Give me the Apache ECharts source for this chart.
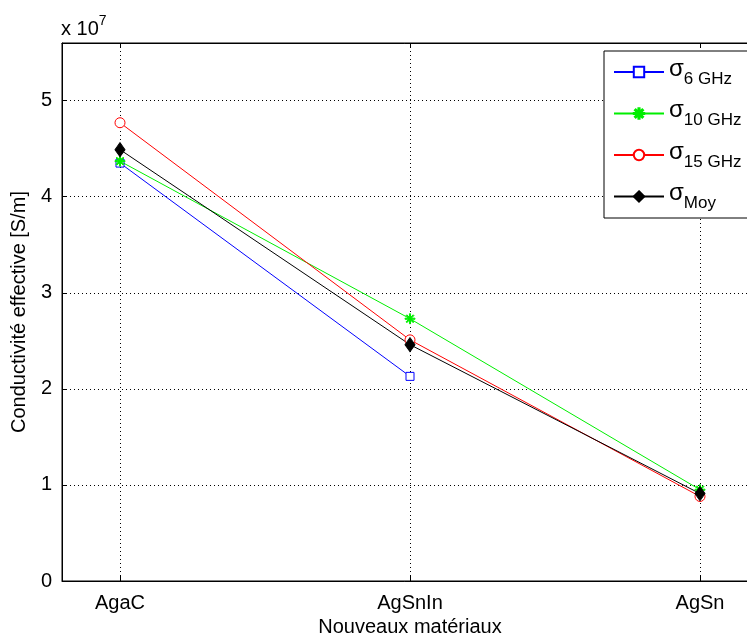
<!DOCTYPE html>
<html><head><meta charset="utf-8">
<script src="https://cdn.jsdelivr.net/npm/echarts@6/dist/echarts.min.js"></script>
<style>html,body{margin:0;padding:0;background:#fff}#c{width:747px;height:635px}</style>
</head><body><div id="c"></div>
<script>
const categories = ['AgaC', 'AgSnIn', 'AgSn'];
const sigma6 = [4.35e7, 2.13e7, null];
const sigma10 = [4.37e7, 2.73e7, 0.95e7];
const sigma15 = [4.77e7, 2.51e7, 0.88e7];
const sigmaMoy = [4.49e7, 2.46e7, 0.91e7];
const yTicks = [0, 1e7, 2e7, 3e7, 4e7, 5e7];
const seriesNames = ['6 GHz', '10 GHz', '15 GHz', 'Moy'];

const FONT = "'Liberation Sans', Arial, sans-serif";
const star = 'path://M-5,-0.55L5,-0.55L5,0.55L-5,0.55Z M-0.55,-5L0.55,-5L0.55,5L-0.55,5Z M-3.14,-3.92L3.92,3.14L3.14,3.92L-3.92,-3.14Z M-3.92,3.14L3.14,-3.92L3.92,-3.14L-3.14,3.92Z';

function toPts(arr){ const out=[]; arr.forEach((v,i)=>{ if(v!==null) out.push([i+1, v]); }); return out; }

const chart = echarts.init(document.getElementById('c'));
const mk = (name, data, color, symbol, size, filled) => ({
  name, type: 'line', data: toPts(data), symbol, symbolSize: size,
  lineStyle: {color, width: 1}, itemStyle: {color: filled ? color : '#fff', borderColor: color, borderWidth: 1},
  animation: false, z: 3
});
chart.setOption({
  animation: false,
  grid: {left: 62, top: 43, right: -11, bottom: 54, show: true, borderColor: '#000', borderWidth: 1, containLabel: false, outerBoundsMode: 'none'},
  xAxis: [{
    type: 'value', min: 0.8, max: 3.2,
    axisLine: {show: true, lineStyle: {color: '#000'}},
    axisTick: {show: true, inside: true, length: 5, customValues: [1,2,3], lineStyle:{color:'#000'}},
    axisLabel: {customValues: [1,2,3], formatter: v => categories[Math.round(v)-1] || '', color: '#000', fontFamily: FONT, fontSize: 20, margin: 12},
    splitLine: {show: true, lineStyle: {color: '#000', type: [1, 3], width: 1}},
    name: 'Nouveaux matériaux', nameLocation: 'middle', nameGap: 36,
    nameTextStyle: {color: '#000', fontFamily: FONT, fontSize: 20}
  }, {
    type: 'value', position: 'top', min: 0.8, max: 3.2,
    axisLine: {show: true, lineStyle: {color: '#000'}},
    axisTick: {show: true, inside: true, length: 5, customValues: [1,2,3], lineStyle:{color:'#000'}},
    axisLabel: {show: false}, splitLine: {show: false}
  }],
  yAxis: {
    type: 'value', min: 0, max: 5.6e7, interval: 1e7,
    axisLine: {show: true, lineStyle: {color: '#000'}},
    axisTick: {show: true, inside: true, length: 5, customValues: yTicks, lineStyle:{color:'#000'}},
    axisLabel: {customValues: yTicks, formatter: v => String(Math.round(v/1e7)), color: '#000', fontFamily: FONT, fontSize: 20, margin: 10},
    splitLine: {show: true, lineStyle: {color: '#000', type: [1, 3], width: 1}},
    name: 'Conductivité effective [S/m]', nameLocation: 'middle', nameGap: 31,
    nameTextStyle: {color: '#000', fontFamily: FONT, fontSize: 20}
  },
  legend: {
    orient: 'vertical', left: 604, top: 51, itemWidth: 50, itemHeight: 13, itemGap: 11,
    backgroundColor: '#fff', borderColor: '#000', borderWidth: 1, padding: [6, 40, 6, 9],
    data: ['s6','s10','s15','sMoy'],
    formatter: name => {
      const m = {s6: seriesNames[0], s10: seriesNames[1], s15: seriesNames[2], sMoy: seriesNames[3]};
      return '{sig|σ}{sub|' + m[name] + '}';
    },
    textStyle: {
      rich: {
        sig: {fontFamily: FONT, fontSize: 24, color: '#000', padding: [0,0,6,0]},
        sub: {fontFamily: FONT, fontSize: 17, color: '#000', padding: [14,0,0,0]}
      }
    }
  },
  graphic: [{
    type: 'text', left: 61, top: 14,
    style: {rich: {a: {fontFamily: FONT, fontSize: 20, fill: '#000', padding:[6,0,0,0]}, b: {fontFamily: FONT, fontSize: 14, fill:'#000', padding:[0,0,10,0]}}, text: '{a|x 10}{b|7}'}
  }],
  series: [
    mk('s6', sigma6, '#0000ff', 'rect', 8, false),
    mk('s10', sigma10, '#00ee00', star, 10, true),
    mk('s15', sigma15, '#ff0000', 'circle', 10, false),
    mk('sMoy', sigmaMoy, '#000000', 'diamond', [10, 14], true)
  ]
});
</script></body></html>
